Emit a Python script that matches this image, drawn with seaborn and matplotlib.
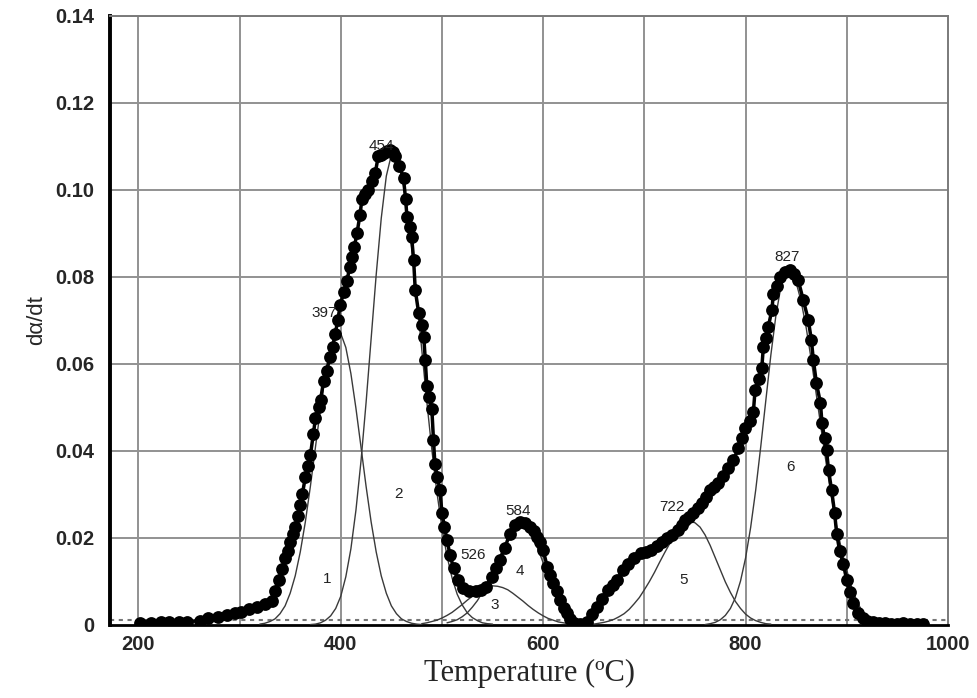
import matplotlib
matplotlib.use("Agg")
import matplotlib.pyplot as plt
import seaborn as sns
import pandas as pd
import numpy as np

# ---- measured DTG curve (dots) ----
temp_meas = [202, 212, 222, 230, 240, 248, 261, 269, 279, 288, 295, 301, 309, 317, 325, 332,
             335, 338.6, 342, 345, 347.5, 350, 352.5, 355, 357.5, 360, 362, 365, 367.5, 370,
             373, 375, 378, 380, 383, 386, 389.6, 392, 394.6, 397, 399.5, 403, 406, 409, 411,
             413.5, 416, 419, 421, 424, 427, 430.5, 434, 437, 440, 443, 446, 449, 451.5, 454,
             458, 462, 464, 465.4, 468, 470, 472, 473.6, 477, 480, 482, 483.5, 485, 487.5, 490,
             491.6, 493, 495.5, 498, 500, 502.5, 505, 508, 511.6, 516, 521, 527, 534, 539, 544,
             549, 553, 557, 562, 567, 572, 577, 582, 587, 591, 594, 597, 600, 604, 607, 610,
             613.5, 617, 620.5, 623.6, 627, 630, 636, 643, 648, 653, 658, 664.5, 669, 673, 679,
             684, 690, 697, 702, 707, 712, 717, 722, 727, 733, 737, 740, 744, 748.5, 752.5, 757,
             761, 765, 769, 773, 778, 783, 788, 793, 796.5, 799.6, 804, 807.7, 809.4, 813, 816,
             817.6, 820, 822.5, 826, 827.5, 831, 834, 839, 844, 848, 852, 857, 862, 865, 867,
             870, 874, 875.5, 878, 880, 882, 885, 888, 890, 893, 896.6, 900, 903, 906.5, 911,
             916, 920, 926, 932, 938, 944, 950, 956, 962, 969, 975]
rate_meas = [0.0004, 0.0004, 0.0006, 0.0006, 0.0007, 0.0008, 0.0010, 0.0015, 0.0019, 0.0023,
             0.0027, 0.0030, 0.0036, 0.0042, 0.0048, 0.0054,
             0.0077, 0.0103, 0.0128, 0.0153, 0.0170, 0.0190, 0.0210, 0.0226, 0.0250, 0.0275,
             0.0300, 0.0340, 0.0365, 0.0390, 0.0440, 0.0475, 0.0500, 0.0517, 0.0560, 0.0585,
             0.0617, 0.0640, 0.0670, 0.0700, 0.0736, 0.0765, 0.0790, 0.0824, 0.0847, 0.0870,
             0.0900, 0.0943, 0.0980, 0.0990, 0.1000, 0.1020, 0.1038, 0.1077, 0.1080, 0.1085,
             0.1090, 0.1092, 0.1088, 0.1077, 0.1055, 0.1027, 0.0980, 0.0939, 0.0915, 0.0893,
             0.0839, 0.0770, 0.0717, 0.0690, 0.0663, 0.0610, 0.0550, 0.0525, 0.0496, 0.0426,
             0.0370, 0.0340, 0.0310, 0.0257, 0.0225, 0.0195, 0.0160, 0.0130, 0.0103, 0.0084,
             0.0078, 0.0077, 0.0080, 0.0088, 0.0110, 0.0130, 0.0150, 0.0176, 0.0210, 0.0230,
             0.0237, 0.0235, 0.0226, 0.0215, 0.0203, 0.0190, 0.0172, 0.0134, 0.0115, 0.0096,
             0.0077, 0.0057, 0.0040, 0.0027, 0.0013, 0.0004, 0.0003, 0.0008, 0.0025, 0.0042,
             0.0060, 0.0080, 0.0092, 0.0103, 0.0126, 0.0140, 0.0153, 0.0165, 0.0168, 0.0172,
             0.0182, 0.0190, 0.0199, 0.0207, 0.0218, 0.0230, 0.0241, 0.0248, 0.0257, 0.0268,
             0.0280, 0.0295, 0.0310, 0.0318, 0.0326, 0.0343, 0.0360, 0.0380, 0.0406, 0.0430,
             0.0452, 0.0470, 0.0490, 0.0540, 0.0565, 0.0590, 0.0640, 0.0660, 0.0686, 0.0724,
             0.0762, 0.0780, 0.0800, 0.0812, 0.0816, 0.0808, 0.0793, 0.0747, 0.0701, 0.0655,
             0.0609, 0.0556, 0.0510, 0.0464, 0.0430, 0.0402, 0.0356, 0.0310, 0.0257, 0.0210,
             0.0170, 0.0140, 0.0103, 0.0075, 0.0050, 0.0027, 0.0015, 0.0010, 0.0006, 0.0004,
             0.0004, 0.0003, 0.0003, 0.0004, 0.0003, 0.0003, 0.0003]

# ---- fitted component peaks (thin lines) ----
temp_c1 = list(range(320, 485, 5))
rate_c1 = [0.0002, 0.0004, 0.0008, 0.0014, 0.0026, 0.0044, 0.0073, 0.0113, 0.0168, 0.0237,
           0.0319, 0.0409, 0.0498, 0.0578, 0.0638, 0.0670, 0.0670, 0.0638, 0.0578, 0.0498,
           0.0409, 0.0319, 0.0237, 0.0168, 0.0113, 0.0073, 0.0044, 0.0026, 0.0014, 0.0008,
           0.0004, 0.0002, 0.0001]

temp_c2 = [370, 375, 380, 385, 390, 395, 400, 405, 410, 415, 420, 425, 430, 435, 440, 445,
           450, 452, 455, 460, 465, 470, 475, 480, 485, 490, 495, 500, 505, 510, 515, 520,
           525, 530, 535, 540, 545, 550]
rate_c2 = [0.0001, 0.0002, 0.0005, 0.0011, 0.0021, 0.0038, 0.0066, 0.0111, 0.0175, 0.0264,
           0.0377, 0.0511, 0.0658, 0.0805, 0.0935, 0.1032, 0.1081, 0.1085, 0.1078, 0.1038,
           0.0967, 0.0869, 0.0755, 0.0634, 0.0514, 0.0403, 0.0305, 0.0223, 0.0158, 0.0108,
           0.0071, 0.0046, 0.0028, 0.0017, 0.0010, 0.0005, 0.0003, 0.0002]

temp_c3 = list(range(480, 635, 5))
rate_c3 = [0.0003, 0.0005, 0.0008, 0.0011, 0.0016, 0.0022, 0.0029, 0.0038, 0.0047, 0.0057,
           0.0066, 0.0075, 0.0082, 0.0087, 0.0090, 0.0089, 0.0086, 0.0081, 0.0073, 0.0064,
           0.0055, 0.0045, 0.0036, 0.0028, 0.0021, 0.0015, 0.0011, 0.0007, 0.0005, 0.0003,
           0.0002]

temp_c4 = list(range(505, 650, 5))
rate_c4 = [0.0005, 0.0008, 0.0012, 0.0019, 0.0028, 0.0041, 0.0056, 0.0075, 0.0097, 0.0121,
           0.0147, 0.0171, 0.0193, 0.0210, 0.0221, 0.0225, 0.0219, 0.0201, 0.0174, 0.0143,
           0.0111, 0.0081, 0.0056, 0.0037, 0.0023, 0.0013, 0.0007, 0.0004, 0.0002]

temp_c5 = [640, 645, 650, 655, 660, 665, 670, 675, 680, 685, 690, 695, 700, 705, 710, 715,
           720, 725, 730, 735, 740, 745, 747, 750, 755, 760, 765, 770, 775, 780, 785, 790,
           795, 800, 805, 810, 815, 820, 825]
rate_c5 = [0.0001, 0.0002, 0.0002, 0.0004, 0.0006, 0.0009, 0.0013, 0.0019, 0.0026, 0.0036,
           0.0049, 0.0063, 0.0081, 0.0100, 0.0121, 0.0144, 0.0166, 0.0187, 0.0206, 0.0221,
           0.0231, 0.0237, 0.0237, 0.0235, 0.0225, 0.0207, 0.0183, 0.0155, 0.0127, 0.0099,
           0.0075, 0.0054, 0.0038, 0.0025, 0.0016, 0.0010, 0.0006, 0.0003, 0.0002]

temp_c6 = [760, 765, 770, 775, 780, 785, 790, 795, 800, 805, 810, 815, 820, 825, 830, 835,
           840, 842, 845, 850, 855, 860, 865, 870, 875, 880, 885, 890, 895, 900, 905, 910,
           915, 920, 925, 930, 935]
rate_c6 = [0.0001, 0.0003, 0.0006, 0.0012, 0.0022, 0.0038, 0.0063, 0.0101, 0.0154, 0.0224,
           0.0310, 0.0410, 0.0516, 0.0621, 0.0712, 0.0779, 0.0813, 0.0816, 0.0812, 0.0787,
           0.0743, 0.0682, 0.0608, 0.0528, 0.0446, 0.0366, 0.0292, 0.0227, 0.0171, 0.0126,
           0.0085, 0.0055, 0.0032, 0.0018, 0.0009, 0.0004, 0.0002]

peak_labels = ["397", "454", "526", "584", "722", "827"]
peak_lab_x = [384, 440, 531, 575, 727, 841]
peak_lab_y = [0.0717, 0.1102, 0.0160, 0.0262, 0.0272, 0.0846]

comp_labels = ["1", "2", "3", "4", "5", "6"]
comp_lab_x = [387, 457, 552, 577, 739, 844]
comp_lab_y = [0.0105, 0.0300, 0.0046, 0.0123, 0.0103, 0.0364]

x_ticks = [200, 400, 600, 800, 1000]
y_ticks = [0, 0.02, 0.04, 0.06, 0.08, 0.10, 0.12, 0.14]
y_tick_labels = ["0", "0.02", "0.04", "0.06", "0.08", "0.10", "0.12", "0.14"]

# ---- drawing ----
sns.set_style("white")
plt.rcParams['font.family'] = ['Liberation Sans', 'DejaVu Sans']

fig = plt.figure(figsize=(9.78, 6.98), dpi=100)
ax = fig.add_axes([0.1125, 0.1046, 0.8568, 0.8725])

meas = pd.DataFrame({"T": temp_meas, "r": rate_meas})

comps = [(temp_c1, rate_c1), (temp_c2, rate_c2), (temp_c3, rate_c3),
         (temp_c4, rate_c4), (temp_c5, rate_c5), (temp_c6, rate_c6)]
for tt, rr in comps:
    sns.lineplot(x=tt, y=rr, ax=ax, color="#3a3a3a", linewidth=1.0,
                 estimator=None, sort=False, zorder=3)

ax.axhline(0.0012, color="#777777", linestyle=(0, (2, 2.2)), linewidth=1.5, zorder=2)

sns.lineplot(data=meas, x="T", y="r", ax=ax, color="black", linewidth=2.5,
             estimator=None, sort=False, zorder=4)
sns.scatterplot(data=meas, x="T", y="r", ax=ax, color="black", s=85,
                edgecolor="black", linewidth=0, zorder=5)

for lab, x, y in zip(peak_labels, peak_lab_x, peak_lab_y):
    ax.text(x, y, lab, fontsize=11, ha="center", va="center", color="#222222", zorder=6)
for lab, x, y in zip(comp_labels, comp_lab_x, comp_lab_y):
    ax.text(x, y, lab, fontsize=11, ha="center", va="center", color="#222222", zorder=6)

ax.set_xlim(172, 1000)
ax.set_ylim(0, 0.14)
ax.set_xticks(x_ticks)
ax.set_xticklabels([str(t) for t in x_ticks], fontsize=14.5, fontweight="bold")
ax.set_yticks(y_ticks)
ax.set_yticklabels(y_tick_labels, fontsize=14.5, fontweight="bold")

# grid
for gx in range(200, 1000, 100):
    ax.axvline(gx, color="#929292", linewidth=1.4, zorder=1)
for gy in y_ticks[1:]:
    ax.axhline(gy, color="#929292", linewidth=1.4, zorder=1)

ax.tick_params(axis="y", direction="out", length=7, width=1.5, color="black", pad=4)
ax.tick_params(axis="x", direction="out", length=4, width=1.2, color="black", pad=3)

ax.spines["left"].set_linewidth(2.8)
ax.spines["left"].set_color("black")
ax.spines["bottom"].set_linewidth(2.0)
ax.spines["bottom"].set_color("black")
for side in ["top", "right"]:
    ax.spines[side].set_linewidth(1.4)
    ax.spines[side].set_color("#7a7a7a")

ax.set_xlabel("Temperature (ºC)", fontsize=22, family=["Liberation Serif", "DejaVu Serif"],
              labelpad=4)
ax.set_ylabel("dα/dt", fontsize=16, labelpad=6)

fig.savefig("out.png", dpi=100)
